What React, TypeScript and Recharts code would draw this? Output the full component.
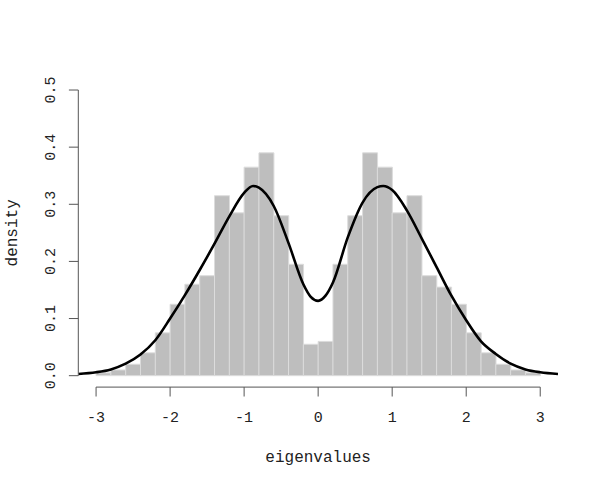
import React from 'react';
import { ComposedChart, Bar, Line, XAxis, YAxis, ReferenceLine, Label } from 'recharts';

const binMids = [-3.1, -2.9, -2.7, -2.5, -2.3, -2.1, -1.9, -1.7, -1.5, -1.3, -1.1, -0.9, -0.7, -0.5, -0.3, -0.1,
  0.1, 0.3, 0.5, 0.7, 0.9, 1.1, 1.3, 1.5, 1.7, 1.9, 2.1, 2.3, 2.5, 2.7, 2.9, 3.1];
const binDensity = [0, 0.005, 0.01, 0.02, 0.04, 0.075, 0.125, 0.16, 0.175, 0.315, 0.285, 0.365, 0.39, 0.28, 0.195, 0.055,
  0.06, 0.195, 0.28, 0.39, 0.365, 0.285, 0.315, 0.175, 0.155, 0.125, 0.075, 0.04, 0.02, 0.01, 0.005, 0];

const curveX = [-3.24, -3.0, -2.8, -2.6, -2.4, -2.2, -2.0, -1.8, -1.6, -1.4, -1.2, -1.0, -0.88, -0.8, -0.6, -0.4, -0.2, -0.1, 0.0,
  0.1, 0.2, 0.4, 0.6, 0.8, 0.88, 1.0, 1.2, 1.4, 1.6, 1.8, 2.0, 2.2, 2.4, 2.6, 2.8, 3.0, 3.24];
const curveY = [0.003, 0.006, 0.011, 0.021, 0.037, 0.062, 0.1, 0.141, 0.185, 0.231, 0.279, 0.32, 0.332, 0.329, 0.297, 0.232, 0.16, 0.138, 0.131,
  0.14, 0.163, 0.242, 0.303, 0.33, 0.332, 0.325, 0.289, 0.24, 0.19, 0.14, 0.097, 0.06, 0.038, 0.021, 0.011, 0.006, 0.003];

const xTicks = [-3, -2, -1, 0, 1, 2, 3];
const yTicks = [0, 0.1, 0.2, 0.3, 0.4, 0.5];
const xDomain = [-3.24, 3.24];
const yDomain = [-0.02, 0.52];

const bins = binMids.map((m, i) => ({ mid: m, h: binDensity[i] }));
const curve = curveX.map((x, i) => ({ x, d: curveY[i] }));

const FONT = '"Liberation Mono", "DejaVu Sans Mono", monospace';
const TEXT = '#222';
const AXIS = '#555';

const XTick = (props: any) => {
  const { x, y, payload } = props;
  return (
    <text x={x} y={y + 19.5} textAnchor="middle" dominantBaseline="central" fontFamily={FONT} fontSize={15} fill={TEXT}>
      {String(payload.value)}
    </text>
  );
};

const YTick = (props: any) => {
  const { x, y, payload } = props;
  const cx = x - 15;
  return (
    <text x={cx} y={y} transform={`rotate(-90, ${cx}, ${y})`} textAnchor="middle" dominantBaseline="central"
      fontFamily={FONT} fontSize={15} fill={TEXT}>
      {Number(payload.value).toFixed(1)}
    </text>
  );
};

const XTitle = (props: any) => {
  const { viewBox } = props;
  const cx = viewBox.x + viewBox.width / 2;
  return (
    <text x={cx} y={458} textAnchor="middle" dominantBaseline="central" fontFamily={FONT} fontSize={16} fill={TEXT}>
      eigenvalues
    </text>
  );
};

const YTitle = (props: any) => {
  const { viewBox } = props;
  const cy = viewBox.y + viewBox.height / 2;
  const cx = 13;
  return (
    <text x={cx} y={cy} transform={`rotate(-90, ${cx}, ${cy})`} textAnchor="middle" dominantBaseline="central"
      fontFamily={FONT} fontSize={16} fill={TEXT}>
      density
    </text>
  );
};

export default function App() {
  return (
    <div style={{ position: 'absolute', left: 0, top: 0, width: 598, height: 486, background: '#fff' }}>
      <ComposedChart width={598} height={486} data={bins} margin={{ top: 78.6, right: 40, bottom: 0, left: 0 }}
        barCategoryGap={0} barGap={0}>
        <XAxis xAxisId="num" dataKey="x" type="number" domain={xDomain} allowDataOverflow ticks={xTicks}
          height={98.9} tickSize={9.4} axisLine={false} tickLine={{ stroke: AXIS }} tick={<XTick />} interval={0}>
          <Label content={<XTitle />} />
        </XAxis>
        <XAxis xAxisId="bins" dataKey="mid" type="category" hide height={0} padding={{ left: 2.96, right: 2.96 }} />
        <YAxis yAxisId="y" type="number" domain={yDomain} allowDataOverflow ticks={yTicks} width={78.3}
          tickSize={9.4} axisLine={false} tickLine={{ stroke: AXIS }} tick={<YTick />} interval={0}>
          <Label content={<YTitle />} />
        </YAxis>
        <Bar xAxisId="bins" yAxisId="y" dataKey="h" fill="#BEBEBE" stroke="#DCDCDC" strokeWidth={1}
          isAnimationActive={false} />
        <Line xAxisId="num" yAxisId="y" data={curve} dataKey="d" type="monotone" stroke="#000" strokeWidth={2.6}
          dot={false} activeDot={false} isAnimationActive={false} />
        <ReferenceLine xAxisId="num" yAxisId="y" ifOverflow="visible" stroke={AXIS}
          segment={[{ x: xTicks[0], y: yDomain[0] }, { x: xTicks[xTicks.length - 1], y: yDomain[0] }]} />
        <ReferenceLine xAxisId="num" yAxisId="y" ifOverflow="visible" stroke={AXIS}
          segment={[{ x: xDomain[0], y: yTicks[0] }, { x: xDomain[0], y: yTicks[yTicks.length - 1] }]} />
      </ComposedChart>
    </div>
  );
}
